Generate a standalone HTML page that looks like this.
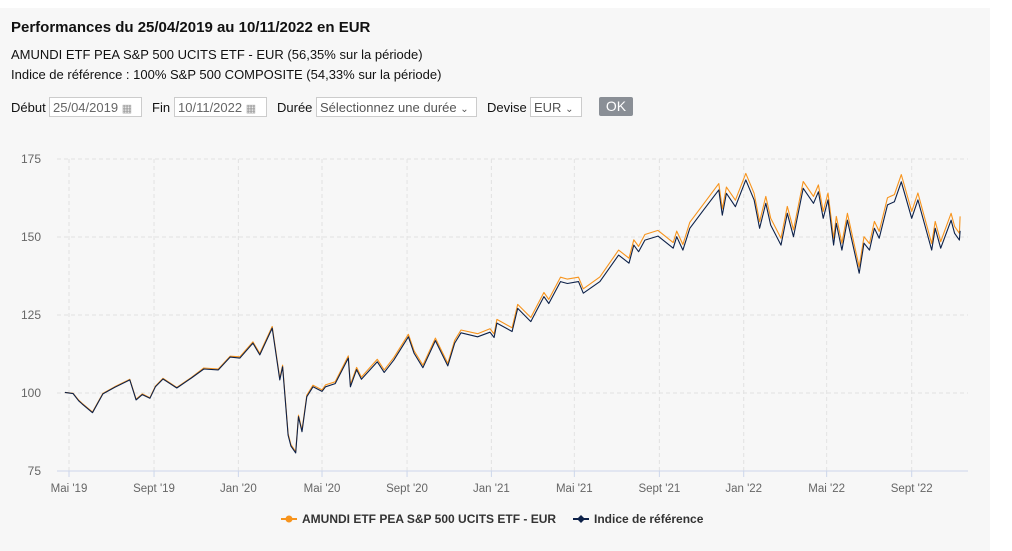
<!DOCTYPE html>
<html><head><meta charset="utf-8">
<style>
html,body{margin:0;padding:0;background:#fff;width:1012px;height:551px;overflow:hidden;font-family:"Liberation Sans",sans-serif;}
#panel{position:absolute;left:0;top:8px;width:990px;height:543px;background:#f7f7f7;}
.t{position:absolute;color:#111;white-space:nowrap;}
.inp{position:absolute;top:97px;height:20px;border:1px solid #ccc;background:#fff;font-size:13px;color:#666;line-height:20px;padding-left:3px;box-sizing:border-box;}
.lbl{position:absolute;top:100px;font-size:13px;color:#111;}
</style></head><body>
<div id="panel"></div>
<div class="t" style="left:11px;top:19px;font-size:15px;font-weight:bold;">Performances du 25/04/2019 au 10/11/2022 en EUR</div>
<div class="t" style="left:11px;top:47px;font-size:13px;">AMUNDI ETF PEA S&amp;P 500 UCITS ETF - EUR (56,35% sur la période)</div>
<div class="t" style="left:11px;top:67px;font-size:13px;">Indice de référence : 100% S&amp;P 500 COMPOSITE (54,33% sur la période)</div>
<div class="lbl" style="left:11px">Début</div>
<div class="inp" style="left:49px;width:93px">25/04/2019 <span style="color:#999;font-size:11px">▦</span></div>
<div class="lbl" style="left:152px">Fin</div>
<div class="inp" style="left:174px;width:93px">10/11/2022 <span style="color:#999;font-size:11px">▦</span></div>
<div class="lbl" style="left:277px">Durée</div>
<div class="inp" style="left:316px;width:161px;color:#555">Sélectionnez une durée <span style="font-size:10px">⌄</span></div>
<div class="lbl" style="left:487px">Devise</div>
<div class="inp" style="left:530px;width:52px;color:#555">EUR <span style="font-size:10px">⌄</span></div>
<div style="position:absolute;left:599px;top:97px;width:34px;height:19px;background:#8a8f96;color:#fff;font-size:14px;text-align:center;line-height:18px;border-radius:2px;">OK</div>
<svg id="chart" width="1012" height="551" style="position:absolute;left:0;top:0"></svg>
<script>
const dates=["2019-04-25","2019-05-07","2019-05-15","2019-05-20","2019-06-04","2019-06-19","2019-07-06","2019-07-28","2019-08-06","2019-08-15","2019-08-26","2019-09-03","2019-09-14","2019-10-04","2019-10-25","2019-11-12","2019-12-03","2019-12-20","2020-01-03","2020-01-22","2020-02-01","2020-02-19","2020-03-01","2020-03-05","2020-03-13","2020-03-17","2020-03-24","2020-03-28","2020-04-02","2020-04-09","2020-04-18","2020-05-01","2020-05-06","2020-05-20","2020-06-08","2020-06-11","2020-06-20","2020-06-27","2020-07-20","2020-07-30","2020-08-13","2020-09-03","2020-09-11","2020-09-24","2020-10-12","2020-10-30","2020-11-09","2020-11-18","2020-12-12","2020-12-30","2021-01-05","2021-01-09","2021-01-31","2021-02-08","2021-02-27","2021-03-18","2021-03-25","2021-04-11","2021-04-21","2021-05-07","2021-05-14","2021-06-07","2021-07-04","2021-07-19","2021-07-26","2021-08-02","2021-08-11","2021-08-30","2021-09-21","2021-09-26","2021-10-05","2021-10-15","2021-11-04","2021-11-26","2021-12-01","2021-12-07","2021-12-20","2022-01-04","2022-01-16","2022-01-24","2022-02-02","2022-02-09","2022-02-24","2022-03-05","2022-03-14","2022-03-28","2022-04-12","2022-04-19","2022-04-26","2022-05-03","2022-05-11","2022-05-15","2022-05-23","2022-05-31","2022-06-17","2022-06-24","2022-07-02","2022-07-09","2022-07-16","2022-07-28","2022-08-07","2022-08-17","2022-09-01","2022-09-10","2022-09-30","2022-10-05","2022-10-13","2022-10-28","2022-11-02","2022-11-09","2022-11-10"];
const indexVals=[100.2,99.8,97.5,96.5,93.7,99.7,101.8,104.2,97.8,99.5,98.3,102,104.5,101.6,104.8,107.7,107.4,111.5,111.2,116,112.2,120.8,104.2,108.4,86.5,83,80.8,92.4,87.6,98.8,102,100.5,102,103,111.2,102,107.5,104.4,110,106.6,110.6,118,112.8,108.1,116.8,108.7,116,119.3,118,119.5,117.8,122.4,119.7,127.1,122.9,130.9,128.7,135.7,135.1,135.7,132,135.7,144.2,141.6,147.4,145.3,149,150.3,146.4,150.1,145.8,152.8,158.7,165.1,157,164,159.7,168.3,161.9,152.8,160.8,153.8,147.4,157.6,150.1,165.6,160.8,164.5,156,161.9,147.4,154.4,145.8,155.4,138.4,148,145.8,152.8,149.6,160.3,161.3,167.7,156,161.9,145.8,152.8,146.4,155.4,151.2,149,152];
const etfVals=[100.2,99.9,97.7,96.7,93.9,99.9,102,104.4,98,99.7,98.5,102.2,104.7,101.8,105,108,107.7,111.8,111.6,116.4,112.7,121.3,104.7,108.9,87,83.5,81.2,92.9,88.1,99.3,102.5,101,102.6,103.6,111.9,102.7,108.2,105.1,110.8,107.4,111.4,118.8,113.6,108.9,117.6,109.5,116.9,120.2,119,120.6,118.9,123.6,120.9,128.4,124.2,132.2,130,137.1,136.5,137.1,133.4,137.2,145.8,143.2,149.1,147,150.8,152.1,148.2,151.9,147.6,154.7,160.6,167.1,159,166,161.8,170.4,164,154.9,163,156,149.6,159.8,152.3,167.8,163,166.7,158.2,164.1,149.6,156.6,148,157.6,140.4,150.1,147.9,155,151.8,162.6,163.6,170,158.2,164.1,147.9,155,148.5,157.6,153.4,151.2,156.6];
const yTicks=[75,100,125,150,175];
const xTickLabels=["Mai '19","Sept '19","Jan '20","Mai '20","Sept '20","Jan '21","Mai '21","Sept '21","Jan '22","Mai '22","Sept '22"];
const xTickDates=["2019-05-01","2019-09-01","2020-01-01","2020-05-01","2020-09-01","2021-01-01","2021-05-01","2021-09-01","2022-01-01","2022-05-01","2022-09-01"];

const svg=document.getElementById('chart');
const NS='http://www.w3.org/2000/svg';
const t0=Date.UTC(2019,4,1);
function dayOf(s){const p=s.split('-');return (Date.UTC(+p[0],+p[1]-1,+p[2])-t0)/86400000;}
function xs(s){return 69+dayOf(s)*0.6913;}
function ys(v){return 471-(v-75)*3.12;}
function mk(tag,attrs){const e=document.createElementNS(NS,tag);for(const k in attrs)e.setAttribute(k,attrs[k]);svg.appendChild(e);return e;}
yTicks.forEach(v=>{
  if(v>75){const g=mk('line',{x1:57,x2:968,y1:ys(v),y2:ys(v),stroke:'#e2e2e2','stroke-dasharray':'4,3'});
  
  }
  const t=mk('text',{x:41,y:ys(v)+4,'text-anchor':'end','font-size':'12',fill:'#666','font-family':'Liberation Sans, sans-serif'});
  t.textContent=v;
  
  
});
xTickDates.forEach((d,i)=>{
  const x=xs(d);
  const g=mk('line',{x1:x,x2:x,y1:159,y2:471,stroke:'#e2e2e2','stroke-dasharray':'4,3'});
  
  
  const tk=mk('line',{x1:x,x2:x,y1:471,y2:477,stroke:'#ccd6eb'});
  
  
  const t=mk('text',{x:x,y:492,'text-anchor':'middle','font-size':'11.5',fill:'#666','font-family':'Liberation Sans, sans-serif'});
  t.textContent=xTickLabels[i];
  
  
});
const ax=mk('line',{x1:57,x2:968,y1:471,y2:471,stroke:'#ccd6eb'});


function path(vals,color,name){
  const d=vals.map((v,i)=>(i?'L':'M')+xs(dates[i]).toFixed(1)+','+ys(v).toFixed(1)).join('');
  const p=mk('path',{d:d,fill:'none',stroke:color,'stroke-width':1.1,'stroke-linejoin':'round'});
  
  
}
path(etfVals,'#f7941d','etf-series-line');
path(indexVals,'#0d2149','index-series-line');
const l1=mk('line',{x1:281,x2:297,y1:519,y2:519,stroke:'#f7941d','stroke-width':2});


const c1=mk('circle',{cx:289,cy:519,r:3.5,fill:'#f7941d'});


const t1=mk('text',{x:302,y:523,'font-size':'12','font-weight':'bold',fill:'#333','font-family':'Liberation Sans, sans-serif'});
t1.textContent='AMUNDI ETF PEA S&P 500 UCITS ETF - EUR';


const l2=mk('line',{x1:573,x2:589,y1:519,y2:519,stroke:'#0d2149','stroke-width':2});


const c2=mk('path',{d:'M581,515L585,519L581,523L577,519Z',fill:'#0d2149'});


const t2=mk('text',{x:594,y:523,'font-size':'12','font-weight':'bold',fill:'#333','font-family':'Liberation Sans, sans-serif'});
t2.textContent='Indice de référence';


</script>
</body></html>
